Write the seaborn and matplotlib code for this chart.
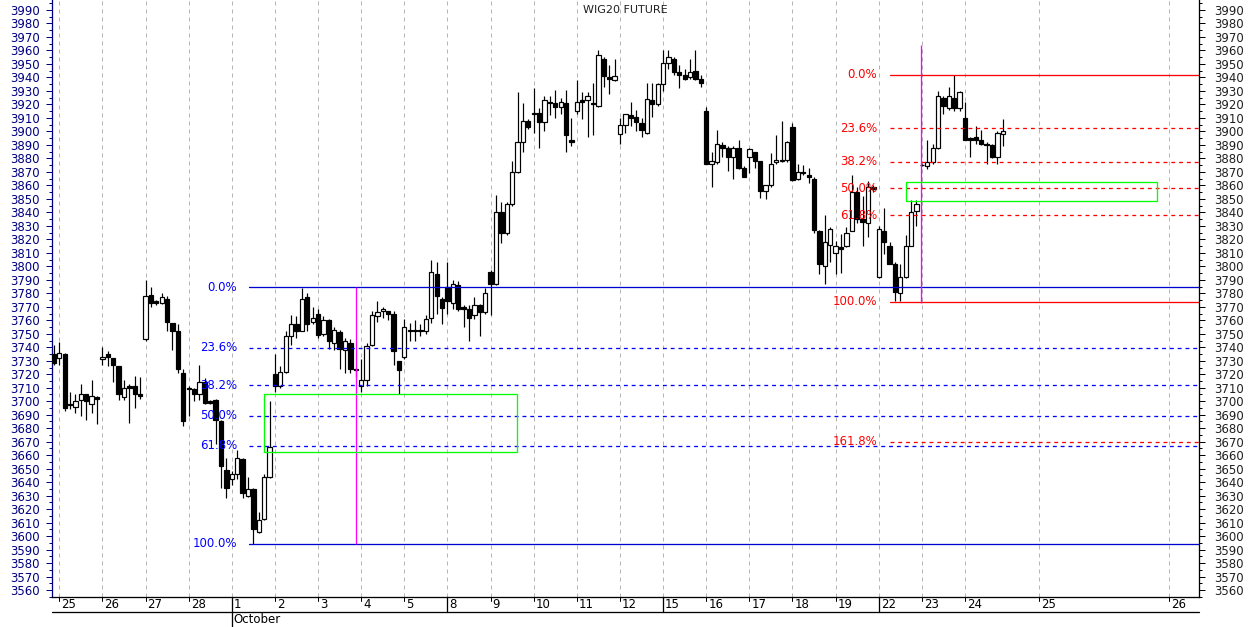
import numpy as np
import matplotlib
matplotlib.use("Agg")
import matplotlib.pyplot as plt
import matplotlib.transforms as mtransforms
from matplotlib.patches import Rectangle
import seaborn as sns

# ---------------- data (hourly candles, 8 per session) ----------------
opens = [3735,
 3732, 3735, 3698, 3696, 3701, 3705, 3698, 3703,
 3731, 3735, 3732, 3726, 3703, 3711, 3711, 3705,
 3746, 3779, 3774, 3773, 3776, 3758, 3752, 3721,
 3710, 3709, 3705, 3714, 3700, 3701, 3685, 3649,
 3642, 3646, 3657, 3630, 3635, 3603, 3613, 3644,
 3720, 3711, 3722, 3748, 3757, 3752, 3777, 3759,
 3765, 3750, 3760, 3743, 3751, 3738, 3743, 3724,
 3711, 3716, 3742, 3763, 3767, 3767, 3765, 3730,
 3733, 3753, 3752, 3753, 3752, 3762, 3794, 3776,
 3785, 3773, 3786, 3770, 3768, 3764, 3771, 3766,
 3796, 3787, 3840, 3825, 3846, 3870, 3892, 3908,
 3913, 3914, 3907, 3922, 3921, 3918, 3921, 3894,
 3915, 3923, 3923, 3921, 3919, 3954, 3940, 3938,
 3898, 3905, 3912, 3911, 3906, 3899, 3923, 3920,
 3935, 3951, 3954, 3944, 3942, 3940, 3945, 3939,
 3915, 3876, 3877, 3890, 3888, 3881, 3888, 3873,
 3881, 3885, 3878, 3856, 3860, 3877, 3878, 3879,
 3903, 3865, 3870, 3868, 3865, 3826, 3800, 3816,
 3810, 3814, 3815, 3826, 3855, 3835, 3832, 3859,
 3792, 3826, 3815, 3802, 3780, 3792, 3815, 3841,
 3875, 3874, 3877, 3888, 3925, 3917, 3925, 3917,
 3910, 3895, 3896, 3894, 3891, 3890, 3881, 3898]
highs = [3742,
 3744, 3736, 3707, 3705, 3713, 3705, 3716, 3704,
 3740, 3737, 3732, 3726, 3716, 3713, 3719, 3718,
 3790, 3785, 3775, 3780, 3778, 3758, 3757, 3724,
 3711, 3710, 3727, 3717, 3701, 3702, 3686, 3658,
 3648, 3664, 3658, 3644, 3636, 3618, 3646, 3700,
 3735, 3726, 3752, 3764, 3763, 3784, 3780, 3770,
 3768, 3763, 3761, 3755, 3753, 3747, 3746, 3725,
 3731, 3743, 3767, 3774, 3770, 3767, 3767, 3730,
 3761, 3758, 3760, 3757, 3764, 3805, 3803, 3777,
 3803, 3790, 3789, 3771, 3771, 3777, 3772, 3784,
 3797, 3853, 3848, 3848, 3878, 3929, 3921, 3909,
 3932, 3917, 3926, 3926, 3931, 3925, 3931, 3910,
 3938, 3929, 3929, 3936, 3960, 3955, 3949, 3954,
 3910, 3913, 3922, 3916, 3910, 3936, 3936, 3936,
 3960, 3960, 3955, 3949, 3946, 3954, 3960, 3942,
 3918, 3885, 3901, 3892, 3889, 3889, 3894, 3874,
 3888, 3885, 3878, 3860, 3884, 3897, 3908, 3893,
 3906, 3876, 3875, 3873, 3866, 3827, 3838, 3829,
 3819, 3824, 3829, 3868, 3859, 3852, 3863, 3860,
 3830, 3843, 3818, 3803, 3802, 3823, 3849, 3849,
 3876, 3894, 3891, 3930, 3926, 3933, 3942, 3930,
 3922, 3896, 3904, 3901, 3892, 3891, 3900, 3909]
lows = [3727,
 3727, 3693, 3694, 3691, 3689, 3686, 3691, 3683,
 3727, 3726, 3714, 3701, 3701, 3684, 3695, 3702,
 3745, 3770, 3771, 3772, 3752, 3738, 3721, 3682,
 3689, 3700, 3701, 3698, 3698, 3668, 3636, 3628,
 3638, 3642, 3628, 3629, 3594, 3602, 3612, 3643,
 3707, 3710, 3721, 3742, 3747, 3752, 3752, 3757,
 3747, 3748, 3739, 3738, 3724, 3721, 3721, 3718,
 3707, 3711, 3741, 3759, 3762, 3760, 3727, 3705,
 3731, 3745, 3745, 3748, 3750, 3758, 3765, 3757,
 3765, 3768, 3767, 3755, 3745, 3761, 3748, 3765,
 3764, 3786, 3817, 3823, 3845, 3869, 3885, 3902,
 3899, 3888, 3900, 3912, 3910, 3913, 3885, 3889,
 3913, 3909, 3896, 3897, 3918, 3933, 3928, 3937,
 3891, 3899, 3904, 3900, 3896, 3898, 3911, 3919,
 3930, 3946, 3942, 3932, 3938, 3939, 3938, 3933,
 3876, 3859, 3876, 3881, 3871, 3865, 3872, 3866,
 3869, 3873, 3851, 3850, 3859, 3876, 3877, 3877,
 3863, 3864, 3868, 3862, 3825, 3794, 3787, 3803,
 3794, 3795, 3814, 3826, 3832, 3815, 3822, 3855,
 3791, 3809, 3802, 3774, 3774, 3791, 3815, 3830,
 3874, 3872, 3876, 3887, 3913, 3916, 3915, 3915,
 3894, 3881, 3891, 3890, 3876, 3880, 3876, 3889]
closes = [3728,
 3736, 3695, 3697, 3700, 3705, 3700, 3704, 3702,
 3733, 3733, 3727, 3705, 3710, 3710, 3705, 3704,
 3778, 3773, 3773, 3777, 3759, 3752, 3724, 3685,
 3709, 3705, 3714, 3699, 3699, 3686, 3652, 3636,
 3646, 3658, 3632, 3635, 3605, 3612, 3644, 3666,
 3711, 3722, 3748, 3757, 3752, 3776, 3757, 3762,
 3749, 3760, 3745, 3753, 3739, 3745, 3724, 3723,
 3716, 3741, 3764, 3766, 3768, 3765, 3737, 3723,
 3755, 3752, 3753, 3752, 3761, 3796, 3778, 3769,
 3774, 3787, 3768, 3768, 3762, 3771, 3766, 3780,
 3787, 3840, 3825, 3846, 3870, 3892, 3908, 3903,
 3914, 3907, 3923, 3921, 3918, 3922, 3897, 3892,
 3922, 3922, 3926, 3920, 3957, 3941, 3939, 3941,
 3905, 3913, 3910, 3907, 3901, 3924, 3920, 3935,
 3951, 3955, 3944, 3942, 3939, 3944, 3939, 3936,
 3876, 3878, 3891, 3888, 3881, 3888, 3873, 3866,
 3887, 3878, 3856, 3860, 3876, 3879, 3879, 3892,
 3864, 3870, 3869, 3866, 3827, 3802, 3818, 3828,
 3815, 3813, 3825, 3855, 3835, 3833, 3859, 3857,
 3828, 3818, 3802, 3781, 3792, 3815, 3840, 3846,
 3875, 3877, 3888, 3926, 3919, 3926, 3917, 3929,
 3894, 3894, 3894, 3891, 3890, 3881, 3899, 3900]

day_labels = ["25", "26", "27", "28", "1", "2", "3", "4", "5", "8", "9", "10",
              "11", "12", "15", "16", "17", "18", "19", "22", "23", "24"]
future_labels = ["25", "26"]
month_label = "October"
title = "WIG20 FUTURE"

blue_fib_high, blue_fib_low = 3784.4, 3594.2
red_fib_high, red_fib_low = 3941.9, 3773.8
blue_ratios = [0.0, 0.236, 0.382, 0.5, 0.618, 1.0]
red_ratios = [0.0, 0.236, 0.382, 0.5, 0.618, 1.0, 1.618]
blue_zone = (3662.6, 3705.1)
red_zone = (3848.7, 3862.3)
magenta2_range = (3772.6, 3964.0)

# ---------------- figure ----------------
sns.set_style("white")
plt.rcParams["font.family"] = ["DejaVu Sans"]

W, H = 1250, 627
fig = plt.figure(figsize=(W / 100, H / 100), dpi=100)
ax = fig.add_axes([52 / W, 30 / H, 1147 / W, 597 / H])
PX = 0.72  # one pixel in points
XMIN, XMAX = -1.35, 211.4
YMIN, YMAX = 3554.9, 3997.4
ax.set_xlim(XMIN, XMAX)
ax.set_ylim(YMIN, YMAX)
xpx = (XMAX - XMIN) / 1147.0  # data units per pixel (x)
ypx = 1.0 / 597.0              # axes units per pixel (y)

n = len(opens)
xs = np.arange(n) - 1
o = np.array(opens, float); h = np.array(highs, float)
l = np.array(lows, float); c = np.array(closes, float)

# day positions
day_pos = [8 * i for i in range(len(day_labels))]
fut_pos = [181.8, 205.8]
all_pos = day_pos + fut_pos
all_lab = day_labels + future_labels
week_pos = [day_pos[4], day_pos[9], day_pos[14], day_pos[19]]

for p in all_pos:
    ax.axvline(p, color="#b4b4b4", lw=PX, ls=(0, (4, 4)), zorder=0)

# candles
ax.vlines(xs, l, h, color="black", lw=PX * 1.2, zorder=2)
up = c >= o
body_bot = np.minimum(o, c)
body_h = np.maximum(np.abs(c - o), 0.35)
ax.bar(xs, body_h, bottom=body_bot, width=0.8,
       color=np.where(up, "white", "black"), edgecolor="black",
       linewidth=PX * 1.2, zorder=3)

# blue fib retracement
bx0 = 35.2
for r in blue_ratios:
    lev = blue_fib_high - r * (blue_fib_high - blue_fib_low)
    solid = r in (0.0, 1.0)
    ax.plot([bx0, XMAX], [lev, lev], color="#0000d0" if solid else "#0000ff",
            lw=PX * 1.3, ls="-" if solid else (0, (3, 3)), zorder=4)
    ax.text(32.97, lev, f"{r*100:.1f}%", color="#0000ff", ha="right", va="center",
            fontsize=8.5, zorder=6)

# red fib retracement
rx0 = 154.0
for r in red_ratios:
    lev = red_fib_high - r * (red_fib_high - red_fib_low)
    solid = r in (0.0, 1.0)
    ax.plot([rx0, XMAX], [lev, lev], color="#ff0000",
            lw=PX * 1.3, ls="-" if solid else (0, (3, 3)), zorder=4)
    ax.text(151.7, lev, f"{r*100:.1f}%", color="#ff0000", ha="right", va="center",
            fontsize=8.5, zorder=6)

# magenta verticals
ax.vlines(55.05, blue_fib_low, blue_fib_high, color="#ff00ff", lw=PX * 1.3, zorder=4)
ax.vlines(159.9, magenta2_range[0], magenta2_range[1], color="#ff00ff", lw=PX * 1.3, zorder=4)

# zones
ax.add_patch(Rectangle((38.0, blue_zone[0]), 84.9 - 38.0, blue_zone[1] - blue_zone[0],
                       fill=False, edgecolor="#00ff00", lw=PX * 1.3, zorder=4))
ax.add_patch(Rectangle((157.0, red_zone[0]), 203.7 - 157.0, red_zone[1] - red_zone[0],
                       fill=False, edgecolor="#00ff00", lw=PX * 1.3, zorder=4))

# title
fig.text(625 / W, 1 - 10 / H, title, ha="center", va="center", fontsize=8, color="#202020")

# spines
ax.spines["top"].set_visible(False)
ax.spines["right"].set_visible(False)
ax.spines["left"].set_color("#000080")
ax.spines["bottom"].set_color("black")
for s in ax.spines.values():
    s.set_linewidth(PX * 1.3)

# y ticks left
yt = np.arange(3560, 3991, 10)
ym = np.arange(3555, 3996, 5)
ax.set_yticks(yt)
ax.set_yticks(ym, minor=True)
ax.set_yticklabels([str(v) for v in yt])
ax.tick_params(axis="y", which="major", length=4.3, width=PX, pad=4.5, labelsize=8.5,
               color="#000080", labelcolor="#000080")
ax.tick_params(axis="y", which="minor", length=2.3, width=PX, color="#000080")
ax.set_xticks([])

# y ticks right
ax2 = ax.twinx()
ax2.set_ylim(YMIN, YMAX)
ax2.set_yticks(yt)
ax2.set_yticks(ym, minor=True)
ax2.set_yticklabels([str(v) for v in yt])
ax2.tick_params(axis="y", which="major", length=4.3, width=PX, pad=6.5, labelsize=8.5,
                color="black", labelcolor="#202020")
ax2.tick_params(axis="y", which="minor", length=2.3, width=PX, color="black")
for s in ["top", "left", "bottom"]:
    ax2.spines[s].set_visible(False)
ax2.spines["right"].set_color("black")
ax2.spines["right"].set_linewidth(PX * 1.3)

# bottom date axis
bt = mtransforms.blended_transform_factory(ax.transData, ax.transAxes)
for p, lab in zip(all_pos, all_lab):
    if p in week_pos:
        ax.plot([p, p], [0, -15 * ypx], color="black", lw=PX * 1.3, transform=bt, clip_on=False)
    else:
        ax.plot([p, p], [0, -4 * ypx], color="black", lw=PX, transform=bt, clip_on=False)
    ax.text(p + 2 * xpx, -7.5 * ypx, lab, transform=bt, ha="left", va="center",
            fontsize=8.5, color="black", clip_on=False)
ax.plot([XMIN, XMAX], [-15 * ypx, -15 * ypx], color="black", lw=PX * 1.3, transform=bt, clip_on=False)
ax.plot([day_pos[4], day_pos[4]], [-15 * ypx, -30 * ypx], color="black", lw=PX * 1.3,
        transform=bt, clip_on=False)
ax.text(day_pos[4] + 2 * xpx, -22.5 * ypx, month_label, transform=bt, ha="left", va="center",
        fontsize=8.5, color="black", clip_on=False)

fig.savefig("out.png", dpi=100)
